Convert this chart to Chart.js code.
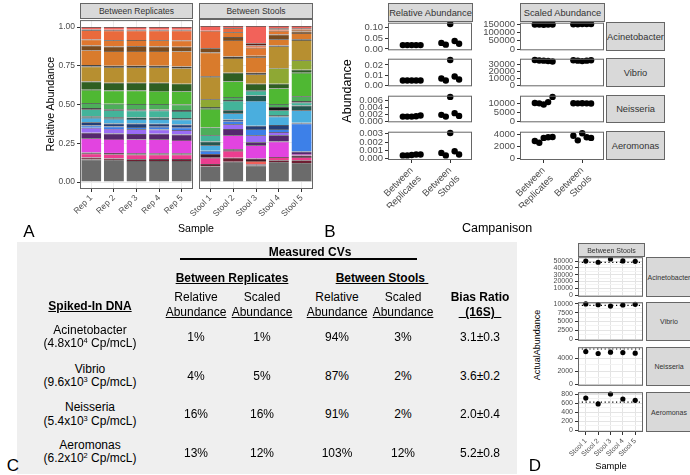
<!DOCTYPE html>
<html>
<head>
<meta charset="utf-8">
<title>Spike-in abundance</title>
<script src="https://cdn.jsdelivr.net/npm/chart.js@4.4.1/dist/chart.umd.min.js"></script>
<style>
  html, body { margin: 0; padding: 0; background: #fff; }
  body { position: relative; width: 690px; height: 475px; overflow: hidden; font-family: "Liberation Sans", Arial, sans-serif; color: #000; }
  canvas { position: absolute; }
  .txt { position: absolute; white-space: nowrap; line-height: 1; transform: translate(-50%, -50%); }
  .strip { position: absolute; box-sizing: border-box; background: #d9d9d9; border: 1px solid #666; color: #333; display: flex; align-items: center; justify-content: center; white-space: nowrap; overflow: hidden; }
  #tbl { position: absolute; left: 17px; top: 242px; width: 500px; height: 232px; background: #efefef; }
  sup { font-size: 0.62em; vertical-align: 0.55em; line-height: 0; }
</style>
</head>
<body>
<div id="tbl"></div>
<script>
// ---- panel A: relative abundance per taxon, bottom to top (Rep 1-5, then Stool 1-5)
const repLabels = ['Rep 1', 'Rep 2', 'Rep 3', 'Rep 4', 'Rep 5'];
const stoolLabels = ['Stool 1', 'Stool 2', 'Stool 3', 'Stool 4', 'Stool 5'];
const abundanceTicks = [0, 0.25, 0.5, 0.75, 1];

const taxGray       = [0.145, 0.14, 0.135, 0.135, 0.135, 0.10, 0.13, 0.105, 0.126, 0.12];
const taxDarkRed    = [0.013, 0.012, 0.012, 0.013, 0.013, 0.015, 0.025, 0.005, 0.014, 0.02];
const taxPink       = [0.025, 0.028, 0.03, 0.03, 0.03, 0.04, 0.045, 0.005, 0.02, 0.02];
const taxRedLow     = [0, 0, 0, 0, 0, 0, 0, 0.02, 0, 0];
const taxDarkLine   = [0.008, 0.008, 0.008, 0.008, 0.008, 0.025, 0.01, 0.015, 0, 0.01];
const taxMagenta    = [0.092, 0.09, 0.09, 0.09, 0.085, 0, 0.09, 0.085, 0.1, 0.01];
const taxDarkPurple = [0.035, 0.035, 0.035, 0.035, 0.035, 0, 0.04, 0.02, 0.04, 0.015];
const taxPurple     = [0.032, 0.03, 0.03, 0.028, 0.03, 0, 0.03, 0.045, 0.02, 0];
const taxBlue       = [0.015, 0.015, 0.015, 0.017, 0.015, 0.02, 0.02, 0.04, 0.02, 0.18];
const taxDarkBlue   = [0.02, 0.02, 0.022, 0.02, 0.02, 0, 0.01, 0.02, 0.025, 0.005];
const taxSkyBlue    = [0.03, 0.03, 0.03, 0.03, 0.032, 0.035, 0.04, 0.16, 0.055, 0.08];
const taxDarkTeal   = [0.01, 0.01, 0.01, 0.01, 0.01, 0.025, 0.02, 0.035, 0.01, 0.03];
const taxTeal       = [0.045, 0.045, 0.045, 0.045, 0.045, 0.04, 0.06, 0.03, 0.03, 0.02];
const taxBlack      = [0.007, 0.007, 0.007, 0.007, 0.007, 0, 0.005, 0.005, 0.02, 0.01];
const taxMedGreen   = [0.033, 0.035, 0.035, 0.035, 0.035, 0.05, 0.02, 0, 0.02, 0.03];
const taxGreen      = [0.085, 0.085, 0.087, 0.085, 0.085, 0.12, 0.1, 0, 0.1, 0.15];
const taxDarkGreen  = [0.054, 0.05, 0.05, 0.052, 0.05, 0.01, 0.055, 0.04, 0.03, 0.02];
const taxOlive      = [0, 0, 0, 0, 0, 0.05, 0, 0, 0.1, 0.06];
const taxMustard    = [0.096, 0.1, 0.1, 0.1, 0.1, 0.145, 0.095, 0.06, 0.14, 0.13];
const taxBlack2     = [0.01, 0.01, 0.01, 0.01, 0.01, 0.005, 0.01, 0.01, 0.005, 0.005];
const taxOrange     = [0.096, 0.095, 0.095, 0.095, 0.098, 0.15, 0.105, 0.1, 0.04, 0.04];
const taxBrown      = [0.03, 0.03, 0.03, 0.03, 0.03, 0.027, 0.02, 0.01, 0.03, 0.01];
const taxOrange2    = [0.038, 0.04, 0.04, 0.04, 0.04, 0, 0.03, 0.05, 0.025, 0.01];
const taxOrangeRed  = [0.06, 0.062, 0.062, 0.063, 0.065, 0.113, 0.025, 0.015, 0.01, 0.005];
const taxMaroon     = [0.005, 0.005, 0.005, 0.005, 0.005, 0, 0, 0.015, 0.005, 0.005];
const taxRed        = [0.016, 0.018, 0.017, 0.017, 0.017, 0.03, 0.015, 0.11, 0.015, 0.015];

const taxa = [
  ['#6b6b6b', taxGray], ['#6e1f32', taxDarkRed], ['#ec3d8f', taxPink], ['#f0605a', taxRedLow],
  ['#3c1a2a', taxDarkLine], ['#e244e0', taxMagenta], ['#55286e', taxDarkPurple], ['#9a6cf5', taxPurple],
  ['#3d80e8', taxBlue], ['#243f78', taxDarkBlue], ['#4aaede', taxSkyBlue], ['#25564e', taxDarkTeal],
  ['#43b49a', taxTeal], ['#151515', taxBlack], ['#4dae5a', taxMedGreen], ['#4fb833', taxGreen],
  ['#2f5f22', taxDarkGreen], ['#8ea834', taxOlive], ['#b78f30', taxMustard], ['#1c1408', taxBlack2],
  ['#d97b2c', taxOrange], ['#7a4b1e', taxBrown], ['#e0772e', taxOrange2], ['#ea6a3c', taxOrangeRed],
  ['#5b1f14', taxMaroon], ['#f2625a', taxRed]
];

// ---- panel B: abundance per spike-in (rows: Acinetobacter, Vibrio, Neisseria, Aeromonas)
const speciesNames = ['Acinetobacter', 'Vibrio', 'Neisseria', 'Aeromonas'];
const comparisonLabels = [['Between', 'Replicates'], ['Between', 'Stools']];
const groupCenters = [1, 2];
const groupDodge = [-0.23, -0.115, 0, 0.115, 0.23];

const relRepValues = [
  [0.018, 0.018, 0.018, 0.018, 0.018],
  [0.0046, 0.0046, 0.0046, 0.0045, 0.0045],
  [0.0013, 0.0013, 0.0013, 0.0014, 0.0016],
  [0.0004, 0.0004, 0.00045, 0.0005, 0.0005]
];
const relStoolValues = [
  [0.028, 0.02, 0.115, 0.037, 0.024],
  [0.0065, 0.0045, 0.025, 0.0085, 0.0055],
  [0.0018, 0.0013, 0.007, 0.0023, 0.0015],
  [0.0007, 0.0004, 0.0031, 0.0009, 0.0005]
];
const relTicks = [[0, 0.05, 0.1], [0, 0.01, 0.02], [0, 0.002, 0.004, 0.006], [0, 0.001, 0.002, 0.003]];
const relDecimals = [2, 2, 3, 3];
const relLimits = [[-0.006, 0.121], [-0.00125, 0.02625], [-0.00035, 0.00735], [-0.000155, 0.003255]];

const scaledRepValues = [
  [148000, 148500, 147000, 148000, 148500],
  [36500, 35800, 35500, 35000, 34200],
  [10100, 9900, 9300, 10600, 13500],
  [2900, 2600, 3400, 3500, 3550]
];
const scaledStoolValues = [
  [150000, 149000, 151000, 151500, 150500],
  [36000, 35500, 34800, 35500, 36000],
  [10000, 9900, 10000, 9900, 9800],
  [3750, 3000, 4150, 3500, 3400]
];
const scaledTicks = [[0, 50000, 100000, 150000], [0, 10000, 20000, 30000], [0, 5000, 10000], [0, 2000, 4000]];
const scaledLimits = [[-7575, 159075], [-1825, 38325], [-675, 14175], [-210, 4410]];

// ---- panel D: actual abundance between stools
const actualValues = [
  [50000, 48200, 53000, 50200, 49600],
  [10000, 9800, 9400, 9700, 9900],
  [5000, 4700, 4900, 4850, 4750],
  [710, 580, 800, 690, 660]
];
const spikedIn = [48000, 9600, 5400, 620];
const actualTicks = [
  [0, 10000, 20000, 30000, 40000, 50000],
  [0, 2500, 5000, 7500, 10000],
  [0, 2000, 4000],
  [0, 200, 400, 600, 800]
];
const actualLimits = [[-2650, 55650], [-500, 10500], [-270, 5670], [-40, 840]];
const stoolPositions = [1, 2, 3, 4, 5];

// ---- panel C: table
const spikeMantissa = ['4.8', '9.6', '5.4', '6.2'];
const spikeExponent = ['4', '3', '3', '2'];
const cvRepRelative = ['1%', '4%', '16%', '13%'];
const cvRepScaled = ['1%', '5%', '16%', '12%'];
const cvStoolRelative = ['94%', '87%', '91%', '103%'];
const cvStoolScaled = ['3%', '2%', '2%', '12%'];
const biasRatio16S = ['3.1±0.3', '3.6±0.2', '2.0±0.4', '5.2±0.8'];

Chart.defaults.font.family = '"Liberation Sans", Arial, sans-serif';
Chart.defaults.color = '#4d4d4d';

const frame = {
  id: 'frame',
  afterDatasetsDraw(chart) {
    const { left, top, right, bottom } = chart.chartArea;
    const ctx = chart.ctx;
    ctx.save();
    ctx.strokeStyle = '#666';
    ctx.lineWidth = 1;
    ctx.strokeRect(left + 0.5, top + 0.5, right - left - 1, bottom - top - 1);
    ctx.restore();
  }
};

function addText(html, x, y, size, style) {
  const d = document.createElement('div');
  d.className = 'txt';
  d.innerHTML = html;
  d.style.left = x + 'px';
  d.style.top = y + 'px';
  d.style.fontSize = size + 'px';
  Object.assign(d.style, style || {});
  document.body.appendChild(d);
  return d;
}

function addStrip(label, x0, y0, x1, y1, size) {
  const d = document.createElement('div');
  d.className = 'strip';
  d.textContent = label;
  Object.assign(d.style, { left: x0 + 'px', top: y0 + 'px', width: (x1 - x0) + 'px', height: (y1 - y0) + 'px', fontSize: size + 'px' });
  document.body.appendChild(d);
}

// canvas whose chart area lands exactly on box = [x0, y0, x1, y1]
function panelChart(box, m, config) {
  const [x0, y0, x1, y1] = box;
  const w = x1 - x0 + m.L + m.R, h = y1 - y0 + m.T + m.B;
  const cv = document.createElement('canvas');
  cv.width = w; cv.height = h;
  cv.style.left = (x0 - m.L) + 'px';
  cv.style.top = (y0 - m.T) + 'px';
  cv.style.width = w + 'px';
  cv.style.height = h + 'px';
  document.body.appendChild(cv);
  config.options = Object.assign({
    responsive: false, maintainAspectRatio: false, devicePixelRatio: 1, animation: false, events: [],
    layout: { padding: { top: m.T, right: m.R, left: 0, bottom: 0 } },
    plugins: { legend: { display: false }, tooltip: { enabled: false } }
  }, config.options);
  config.options.scales.x.afterFit = s => { s.height = m.B; };
  config.options.scales.y.afterFit = s => { s.width = m.L; };
  config.plugins = [frame];
  return new Chart(cv, config);
}

function linAxis(min, max, tickVals, fmt, o) {
  return {
    type: 'linear', min, max,
    afterBuildTicks: s => { s.ticks = tickVals.map(v => ({ value: v })); },
    border: { display: false },
    grid: {
      drawOnChartArea: !!o.grid, color: o.grid || 'transparent', lineWidth: 1,
      drawTicks: !!o.labels, tickLength: 3, tickColor: o.tickColor || '#333'
    },
    ticks: {
      display: !!o.labels, padding: 2, color: '#4d4d4d', font: { size: o.size },
      autoSkip: false, maxRotation: o.rot || 0, minRotation: o.rot || 0, callback: fmt
    }
  };
}

// ---------- A ----------
function abundancePanel(box, labels, from, showY) {
  const datasets = taxa.map(([color, vals]) => ({
    data: vals.slice(from, from + 5),
    backgroundColor: color,
    borderColor: '#2a2a2a',
    borderWidth: { top: 0.7, left: 0, right: 0, bottom: 0 },
    borderSkipped: false,
    barPercentage: 0.885,
    categoryPercentage: 1
  }));
  const y = linAxis(-0.045, 1.045, abundanceTicks, v => v.toFixed(2), { labels: showY, size: 8.5, grid: '#ebebeb' });
  y.stacked = true;
  panelChart(box, { L: 30, T: 6, R: 2, B: 32 }, {
    type: 'bar',
    data: { labels, datasets },
    options: {
      scales: {
        x: {
          type: 'category', stacked: true, offset: true,
          border: { display: false },
          grid: { offset: false, drawOnChartArea: true, color: '#ebebeb', tickLength: 3, tickColor: '#333' },
          ticks: { autoSkip: false, maxRotation: 45, minRotation: 45, padding: 1, font: { size: 8.5 }, color: '#4d4d4d' }
        },
        y
      }
    }
  });
}
abundancePanel([80, 19, 193, 189], repLabels, 0, true);
abundancePanel([199, 19, 313, 189], stoolLabels, 5, false);
addStrip('Between Replicates', 80, 3, 193, 19, 8.5);
addStrip('Between Stools', 199, 3, 313, 19, 8.5);
addText('Relative Abundance', 50, 104, 10.6, { transform: 'translate(-50%,-50%) rotate(-90deg)' });
addText('Sample', 196, 228, 10.6);

// ---------- B ----------
function dotPanel(box, m, repVals, stoolVals, limits, ticks, fmt, bottom) {
  const pts = repVals.map((v, i) => ({ x: groupCenters[0] + groupDodge[i], y: v }))
    .concat(stoolVals.map((v, i) => ({ x: groupCenters[1] + groupDodge[i], y: v })));
  panelChart(box, m, {
    type: 'scatter',
    data: { datasets: [{ data: pts, pointRadius: 3.2, pointBackgroundColor: '#000', pointBorderWidth: 0, clip: false }] },
    options: {
      scales: {
        x: linAxis(0.385, 2.565, groupCenters, v => comparisonLabels[Math.round(v) - 1], { labels: bottom, size: 9.5, rot: 45 }),
        y: linAxis(limits[0], limits[1], ticks, fmt, { labels: true, size: 9.5 })
      }
    }
  });
}
const bRows = [[22, 51], [58, 87], [95, 123], [131, 160]];
for (let r = 0; r < 4; r++) {
  const bottom = r === 3;
  dotPanel([388, bRows[r][0], 473, bRows[r][1]], { L: 44, T: 7, R: 3, B: bottom ? 48 : 7 },
    relRepValues[r], relStoolValues[r], relLimits[r], relTicks[r], v => v.toFixed(relDecimals[r]), bottom);
  dotPanel([520, bRows[r][0], 605, bRows[r][1]], { L: 48, T: 7, R: 3, B: bottom ? 48 : 7 },
    scaledRepValues[r], scaledStoolValues[r], scaledLimits[r], scaledTicks[r], v => String(v), bottom);
  addStrip(speciesNames[r], 606, bRows[r][0], 665, bRows[r][1], 9.3);
}
addStrip('Relative Abundance', 388, 3, 473, 22, 9.3);
addStrip('Scaled Abundance', 520, 3, 605, 22, 9.3);
addText('Abundance', 347, 91, 12.5, { transform: 'translate(-50%,-50%) rotate(-90deg)' });
addText('Campanison', 497, 228, 12.5);

// ---------- D ----------
const dRows = [[257, 297], [302, 341], [347, 386], [392, 432]];
for (let r = 0; r < 4; r++) {
  const bottom = r === 3;
  const majors = actualTicks[r];
  const minors = majors.slice(1).map((t, i) => (t + majors[i]) / 2);
  const isMinor = v => minors.includes(v);
  const y = linAxis(actualLimits[r][0], actualLimits[r][1], majors.concat(minors),
    v => (isMinor(v) ? '' : String(v)), { labels: true, size: 7 });
  y.grid.drawOnChartArea = true;
  y.grid.color = c => (isMinor(c.tick.value) ? '#f3f3f3' : '#e4e4e4');
  y.grid.tickColor = c => (isMinor(c.tick.value) ? 'rgba(0,0,0,0)' : '#333');
  const x = linAxis(0.37, 5.63, stoolPositions, v => stoolLabels[Math.round(v) - 1], { labels: bottom, size: 7, rot: 45, grid: '#e4e4e4' });
  panelChart([578, dRows[r][0], 645, dRows[r][1]], { L: 28, T: 6, R: 2, B: bottom ? 30 : 6 }, {
    type: 'scatter',
    data: {
      datasets: [
        { data: actualValues[r].map((v, i) => ({ x: stoolPositions[i], y: v })), pointRadius: 2.6, pointBackgroundColor: '#000', pointBorderWidth: 0, clip: false },
        { type: 'line', data: [{ x: 0.37, y: spikedIn[r] }, { x: 5.63, y: spikedIn[r] }], borderColor: '#000', borderWidth: 1.1, borderDash: [1.2, 2.6], pointRadius: 0 }
      ]
    },
    options: { scales: { x, y } }
  });
  addStrip(speciesNames[r], 646, dRows[r][0], 692, dRows[r][1], 7);
}
addStrip('Between Stools', 578, 243, 645, 257, 7);
addText('ActualAbundance', 537, 345, 9, { transform: 'translate(-50%,-50%) rotate(-90deg)' });
addText('Sample', 611, 467, 9.3);

// ---------- C: table ----------
const colX = [196, 262, 337, 403, 480];
const nameY = [330, 369, 407, 445];
const spikeY = [343, 382, 421, 458];
const valueY = [337, 376, 414, 453];
addText('Measured CVs', 310, 252, 12, { fontWeight: 'bold' });
const rule = document.createElement('div');
Object.assign(rule.style, { position: 'absolute', left: '180px', top: '258px', width: '237px', height: '1.5px', background: '#000' });
document.body.appendChild(rule);
addText('Between Replicates', 232, 278, 12, { fontWeight: 'bold', textDecoration: 'underline' });
addText('Between Stools&nbsp;', 382, 278, 12, { fontWeight: 'bold', textDecoration: 'underline' });
for (let c = 0; c < 4; c++) {
  addText(c % 2 === 0 ? 'Relative' : 'Scaled', colX[c], 297, 12);
  addText('Abundance', colX[c], 312, 12, { textDecoration: 'underline' });
}
addText('Bias Ratio', colX[4], 297, 12, { fontWeight: 'bold' });
addText('&nbsp;&nbsp;(16S)&nbsp;&nbsp;', colX[4], 312, 12, { fontWeight: 'bold', textDecoration: 'underline' });
addText('Spiked-In DNA', 90, 306, 12, { fontWeight: 'bold', textDecoration: 'underline' });
const tableCols = [cvRepRelative, cvRepScaled, cvStoolRelative, cvStoolScaled, biasRatio16S];
for (let r = 0; r < 4; r++) {
  addText(speciesNames[r], 90, nameY[r], 12);
  addText('(' + spikeMantissa[r] + 'x10<sup>' + spikeExponent[r] + '</sup> Cp/mcL)', 90, spikeY[r], 12);
  tableCols.forEach((col, c) => addText(col[r], colX[c], valueY[r], 12));
}

// panel letters
addText('A', 29, 231, 17);
addText('B', 330, 231, 17);
addText('C', 13, 465, 17);
addText('D', 535, 465, 17);
</script>
</body>
</html>
